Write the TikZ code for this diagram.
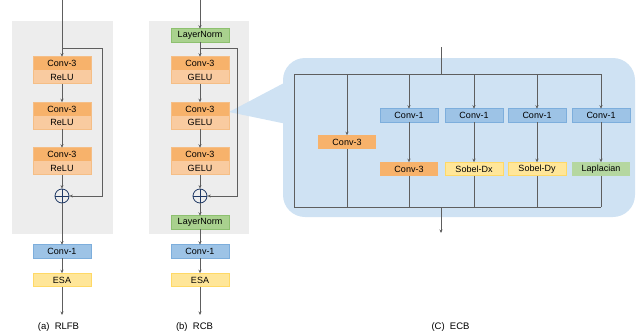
\documentclass[tikz,border=0pt]{standalone}
\usepackage{fontspec}
\setmainfont{Liberation Sans}
\usetikzlibrary{positioning,arrows.meta}
\definecolor{blockgray}{HTML}{EDEDED}
\definecolor{linegray}{HTML}{5E5E5E}
\definecolor{convorange}{HTML}{F7B26B}
\definecolor{actorange}{HTML}{F9CBA0}
\definecolor{convline}{HTML}{F5BE86}
\definecolor{oneblue}{HTML}{9DC3E6}
\definecolor{oneline}{HTML}{7DAEDC}
\definecolor{esayellow}{HTML}{FFE699}
\definecolor{esaline}{HTML}{FFD966}
\definecolor{normgreen}{HTML}{A9D18E}
\definecolor{normline}{HTML}{8DC06F}
\definecolor{lapgreen}{HTML}{B5D7A0}
\definecolor{callblue}{HTML}{CFE2F3}
\definecolor{plusnavy}{HTML}{1F3864}

\begin{document}
\begin{tikzpicture}[x=1pt, y=-1pt,
    line/.style={draw=linegray, line width=0.6pt},
    arr/.style={line, -{Stealth[length=3.5pt,width=3pt]}},
    blk/.style={minimum width=58pt, minimum height=13.5pt, inner sep=0pt,
                outer sep=0pt, font=\fontsize{9}{10}\selectfont},
    convbox/.style={blk, fill=convorange},
    actbox/.style={blk, fill=actorange},
    onebox/.style={blk, fill=oneblue, draw=oneline, line width=0.6pt},
    esabox/.style={blk, fill=esayellow, draw=esaline, line width=0.6pt},
    normbox/.style={blk, fill=normgreen, draw=normline, line width=0.6pt},
    sobelbox/.style={blk, fill=esayellow, draw=esaline, line width=0.6pt},
    lapbox/.style={blk, fill=lapgreen},
    plus/.style={circle, draw=plusnavy, line width=0.8pt, minimum size=14pt,
                 inner sep=0pt, path picture={
                   \draw[plusnavy, line width=0.8pt]
                     (path picture bounding box.north) -- (path picture bounding box.south)
                     (path picture bounding box.west) -- (path picture bounding box.east);}},
    caption/.style={font=\fontsize{9.5}{11}\selectfont},
]
\useasboundingbox (0,0) rectangle (637,335);

% backgrounds
\fill[blockgray] (12,21) rectangle (113,234);
\fill[blockgray] (149,21) rectangle (249,234);
\fill[callblue, rounded corners=22pt] (283,58) rectangle (635,217);
\fill[callblue] (229,112) -- (290,79.8) -- (290,124.7) -- cycle;

% (a) RLFB
\coordinate (a-in) at (62,0);
\coordinate (a-skip) at (62,48);
\coordinate (a-out) at (62,315);
\node[convbox] (a-c1) at (62,63.5) {Conv-3};
\node[actbox, below=0pt of a-c1] (a-r1) {ReLU};
\node[convbox] (a-c2) at (62,109) {Conv-3};
\node[actbox, below=0pt of a-c2] (a-r2) {ReLU};
\node[convbox] (a-c3) at (62,154.5) {Conv-3};
\node[actbox, below=0pt of a-c3] (a-r3) {ReLU};
\foreach \n in {1,2,3}
    \draw[convline, line width=0.6pt] (a-c\n.north west) rectangle (a-r\n.south east);
\node[plus] (a-add) at (62,196) {};
\node[onebox] (a-conv1) at (62,251.5) {Conv-1};
\node[esabox] (a-esa) at (62,280) {ESA};

\draw[arr] (a-in) -- (a-c1);
\draw[arr] (a-r1) -- (a-c2);
\draw[arr] (a-r2) -- (a-c3);
\draw[arr] (a-r3) -- (a-add);
\draw[arr] (a-skip) -- ++(40,0) |- (a-add.east);
\draw[arr] (a-add) -- (a-conv1);
\draw[arr] (a-conv1) -- (a-esa);
\draw[arr] (a-esa) -- (a-out);
\node[caption] (a-cap) at (58.5,327) {(a)\ \ RLFB};

% (b) RCB
\coordinate (b-in) at (200,0);
\coordinate (b-skip) at (200,48);
\coordinate (b-out) at (200,315);
\node[normbox] (b-ln1) at (200,35.5) {LayerNorm};
\node[convbox] (b-c1) at (200,63.5) {Conv-3};
\node[actbox, below=0pt of b-c1] (b-r1) {GELU};
\node[convbox] (b-c2) at (200,109) {Conv-3};
\node[actbox, below=0pt of b-c2] (b-r2) {GELU};
\node[convbox] (b-c3) at (200,154.5) {Conv-3};
\node[actbox, below=0pt of b-c3] (b-r3) {GELU};
\foreach \n in {1,2,3}
    \draw[convline, line width=0.6pt] (b-c\n.north west) rectangle (b-r\n.south east);
\node[plus] (b-add) at (200,196) {};
\node[normbox] (b-ln2) at (200,222.5) {LayerNorm};
\node[onebox] (b-conv1) at (200,251.5) {Conv-1};
\node[esabox] (b-esa) at (200,280) {ESA};

\draw[arr] (b-in) -- (b-ln1);
\draw[arr] (b-ln1) -- (b-c1);
\draw[arr] (b-r1) -- (b-c2);
\draw[arr] (b-r2) -- (b-c3);
\draw[arr] (b-r3) -- (b-add);
\draw[arr] (b-skip) -- ++(37,0) |- (b-add.east);
\draw[arr] (b-add) -- (b-ln2);
\draw[arr] (b-ln2) -- (b-conv1);
\draw[arr] (b-conv1) -- (b-esa);
\draw[arr] (b-esa) -- (b-out);
\node[caption] (b-cap) at (194.5,327) {(b)\ \ RCB};

% (C) ECB
\coordinate (e-in) at (441,47);
\coordinate (e-top) at (441,74);
\coordinate (e-bot) at (441,207);
\coordinate (e-out) at (441,233);
\node[convbox] (e-k3) at (347,142) {Conv-3};
\node[onebox] (e-1a) at (409,115.5) {Conv-1};
\node[convbox] (e-3) at (409,169) {Conv-3};
\node[onebox] (e-1b) at (474,115.5) {Conv-1};
\node[sobelbox] (e-dx) at (474,169) {Sobel-Dx};
\node[onebox] (e-1c) at (537,115.5) {Conv-1};
\node[sobelbox] (e-dy) at (537,169) {Sobel-Dy};
\node[onebox] (e-1d) at (601,115.5) {Conv-1};
\node[lapbox] (e-lap) at (601,169) {Laplacian};

\draw[line] (e-in) -- (e-top);
\draw[line] (e-1d |- e-top) -- (294,74) -- (294,207) -- (e-1d |- e-bot);
\draw[arr] (e-bot) -- (e-out);
\draw[arr] (e-k3 |- e-top) -- (e-k3);
\draw[line] (e-k3) -- (e-k3 |- e-bot);
\foreach \a/\b in {e-1a/e-3, e-1b/e-dx, e-1c/e-dy, e-1d/e-lap} {
    \draw[arr] (\a |- e-top) -- (\a);
    \draw[arr] (\a) -- (\b);
    \draw[line] (\b) -- (\b |- e-bot);
}
\node[caption] (e-cap) at (450.5,327) {(C)\ \ ECB};
\end{tikzpicture}
\end{document}
